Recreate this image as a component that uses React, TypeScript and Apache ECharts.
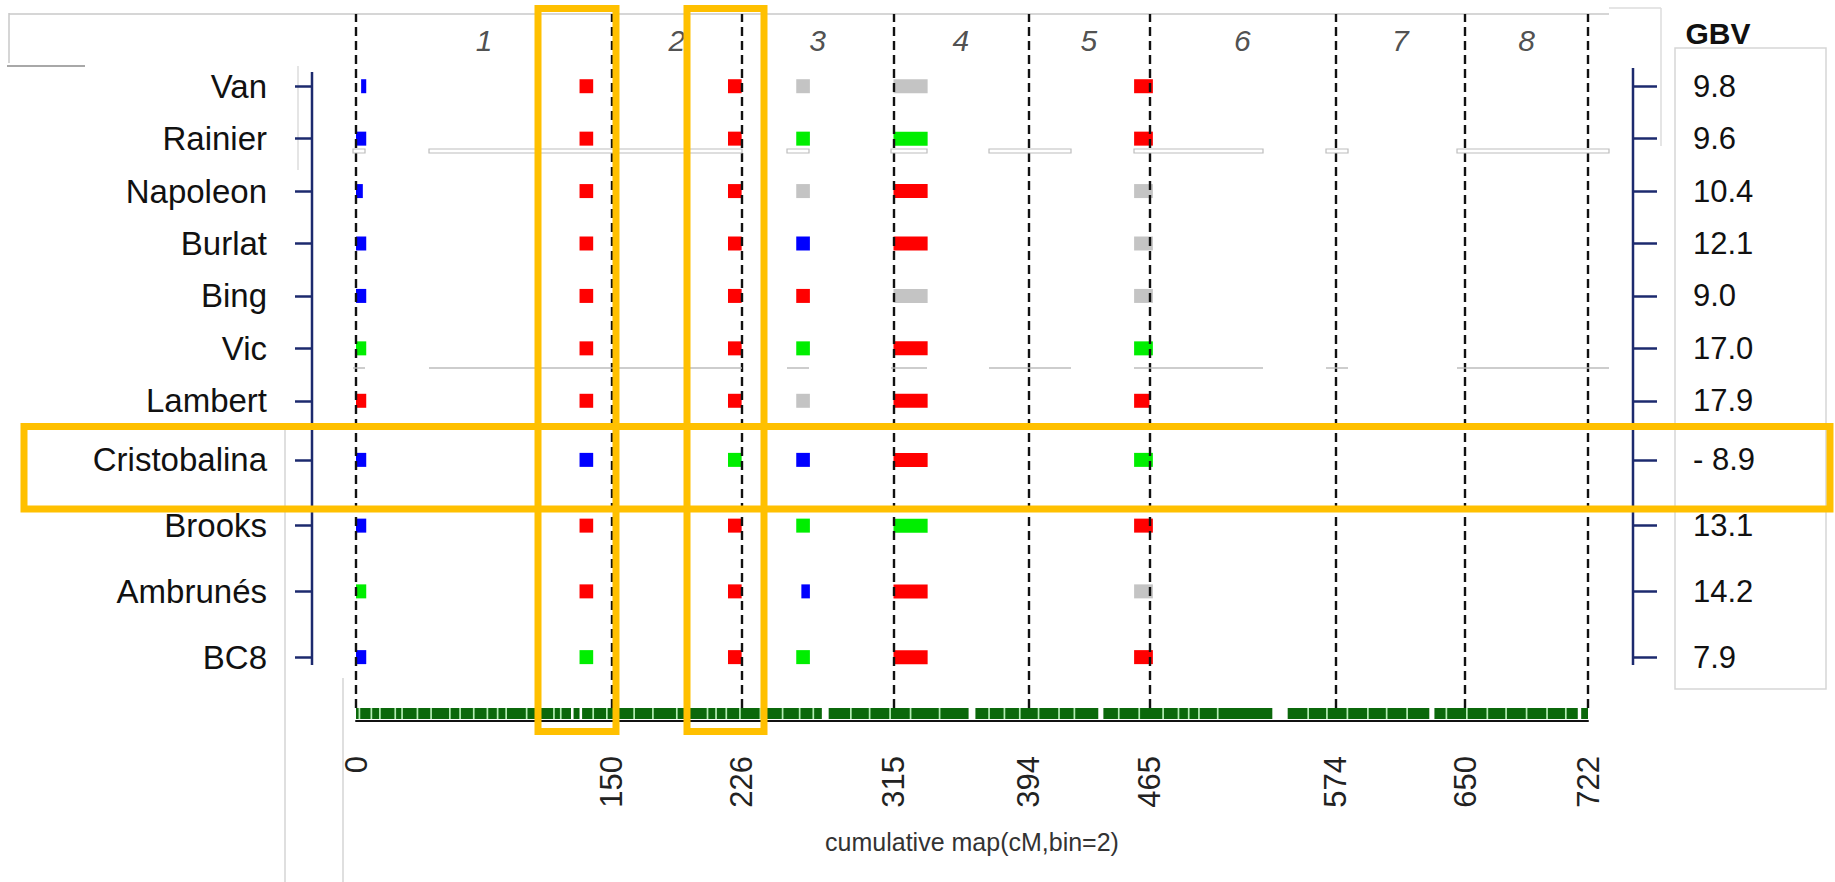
import React, { useEffect, useRef } from 'react';
import * as echarts from 'echarts';

const FONT = '"Liberation Sans", Arial, Helvetica, sans-serif';

// ---- data ----
const genotypes = ['Van', 'Rainier', 'Napoleon', 'Burlat', 'Bing', 'Vic', 'Lambert', 'Cristobalina', 'Brooks', 'Ambrunés', 'BC8'];
const gbvValues = ['9.8', '9.6', '10.4', '12.1', '9.0', '17.0', '17.9', '- 8.9', '13.1', '14.2', '7.9'];
const upperRowCount = 7;

const chromBoundaries = [0, 150, 226, 315, 394, 465, 574, 650, 722];
const chromNames = ['1', '2', '3', '4', '5', '6', '7', '8'];

// marker bins (cM start, cM end)
const markerBins = [[0, 6], [131, 139], [218, 226], [258, 266], [315, 335], [456, 467]];
// haplotype code per genotype per bin: R red, B blue, G green, N grey
const haplotypeCodes = [
  ['B', 'R', 'R', 'N', 'N', 'R'], // Van
  ['B', 'R', 'R', 'G', 'G', 'R'], // Rainier
  ['B', 'R', 'R', 'N', 'R', 'N'], // Napoleon
  ['B', 'R', 'R', 'B', 'R', 'N'], // Burlat
  ['B', 'R', 'R', 'R', 'N', 'N'], // Bing
  ['G', 'R', 'R', 'G', 'R', 'G'], // Vic
  ['R', 'R', 'R', 'N', 'R', 'R'], // Lambert
  ['B', 'B', 'G', 'B', 'R', 'G'], // Cristobalina
  ['B', 'R', 'R', 'G', 'G', 'R'], // Brooks
  ['G', 'R', 'R', 'B', 'R', 'N'], // Ambrunés
  ['B', 'G', 'R', 'G', 'R', 'R'], // BC8
];
const spanOverrides = [
  { row: 0, bin: 0, span: [3, 6] },
  { row: 2, bin: 0, span: [0, 4] },
  { row: 9, bin: 3, span: [261, 266] },
  { row: 6, bin: 5, span: [456, 465] },
];
const codeColors: Record<string, string> = { R: '#ff0000', B: '#0000ff', G: '#00ee00', N: '#c4c4c4' };

// marker rug (cumulative map)
const rugExtent = [0, 722];
const rugGaps = [[126, 127.5], [131, 132.5], [273, 277], [359, 363], [435, 438], [537, 546], [629, 632], [716, 718]];
const rugSlits = [2, 9, 14, 23, 27, 36, 44, 55, 61, 69, 77, 83, 88, 100, 116, 120, 139, 147, 163, 174, 188, 206, 211, 217, 225, 237, 250, 260, 268, 290, 301, 313, 325, 342, 371, 380, 389, 400, 412, 421, 447, 459, 473, 482, 488, 494, 505, 558, 569, 581, 593, 604, 616, 639, 651, 663, 674, 686, 698, 709];

const NAVY = '#1c2a6e';
const ORANGE = '#FFC000';
const GREY = '#c8c8c8';

function buildMarkers(rowStart: number, rowEnd: number) {
  const out: any[] = [];
  for (let r = rowStart; r < rowEnd; r++) {
    haplotypeCodes[r].forEach((code, b) => {
      const ov = spanOverrides.find((o) => o.row === r && o.bin === b);
      const span = ov ? ov.span : markerBins[b];
      out.push({ value: [span[0], span[1], r - rowStart], itemStyle: { color: codeColors[code] } });
    });
  }
  return out;
}

const markerRender = (params: any, api: any) => {
  const row = api.value(2);
  const p0 = api.coord([api.value(0), row]);
  const p1 = api.coord([api.value(1), row]);
  const h = 14;
  return {
    type: 'rect',
    shape: { x: p0[0], y: p0[1] - h / 2, width: Math.max(p1[0] - p0[0], 2), height: h },
    style: { fill: api.visual('color') },
  };
};

const rugRender = (params: any, api: any) => {
  const a = api.coord([api.value(0), 1]);
  const b = api.coord([api.value(1), 0]);
  return {
    type: 'rect',
    shape: { x: a[0], y: a[1], width: Math.max(b[0] - a[0], 1.6), height: b[1] - a[1] - 2 },
    style: { fill: api.visual('color') },
  };
};

function catAxis(gridIndex: number, side: 'left' | 'right', data: string[]) {
  const left = side === 'left';
  return {
    gridIndex,
    type: 'category',
    position: side,
    inverse: true,
    data,
    offset: left ? 44 : 45,
    boundaryGap: true,
    axisLine: { show: false, onZero: false },
    axisTick: { show: true, alignWithLabel: true, length: left ? 17 : 24, lineStyle: { color: NAVY, width: 2.5 } },
    axisLabel: {
      margin: left ? 45 : 60,
      fontSize: left ? 33 : 31,
      color: '#111',
      fontFamily: FONT,
    },
    splitLine: { show: false },
  };
}

function hLine(x1: number, x2: number, y: number, color = GREY, w = 1.5) {
  return { type: 'line', silent: true, shape: { x1, y1: y, x2, y2: y }, style: { stroke: color, lineWidth: w } };
}
function vLine(x: number, y1: number, y2: number, color = GREY, w = 1.5) {
  return { type: 'line', silent: true, shape: { x1: x, y1, x2: x, y2 }, style: { stroke: color, lineWidth: w } };
}
function box(x: number, y: number, w: number, h: number, stroke: string, lw: number, z = 100) {
  return { type: 'rect', silent: true, z, shape: { x, y, width: w, height: h }, style: { fill: 'none', stroke, lineWidth: lw } };
}

const stripSegments = [[353, 365], [429, 742], [787, 809], [891, 927], [989, 1071], [1134, 1263], [1326, 1348], [1457, 1609]];

export default function App() {
  const ref = useRef<HTMLDivElement>(null);
  useEffect(() => {
    if (!ref.current) return;
    const chart = echarts.init(ref.current, undefined, { renderer: 'svg' });

    const chromLabelData = chromNames.map((n, i) => ({
      name: n,
      value: [(chromBoundaries[i] + chromBoundaries[i + 1]) / 2, 0.9625],
    }));

    const rugData: any[] = [];
    rugData.push({ value: [rugExtent[0], rugExtent[1]], itemStyle: { color: '#0b680b' } });
    rugGaps.forEach((g) => rugData.push({ value: [g[0], g[1]], itemStyle: { color: '#ffffff' } }));
    rugSlits.forEach((s) => rugData.push({ value: [s - 0.5, s + 0.5], itemStyle: { color: '#b4ecb4' } }));

    const graphics: any[] = [];
    // faint panel borders from the composite figure
    graphics.push(hLine(9, 1609, 14));
    graphics.push(vLine(9, 13, 63));
    graphics.push(hLine(7, 85, 66, '#a8a8a8', 2));
    graphics.push(vLine(298, 66, 170, '#dddddd'));
    graphics.push(vLine(285, 430, 882, '#d4d4d4'));
    graphics.push(vLine(343, 678, 882, '#d4d4d4'));
    graphics.push(hLine(1609, 1661, 8, '#dddddd'));
    graphics.push(vLine(1661, 8, 146, '#dddddd'));
    graphics.push({ type: 'rect', silent: true, shape: { x: 1675, y: 48, width: 151, height: 641 }, style: { fill: 'none', stroke: '#d6d6d6', lineWidth: 1.5 } });
    stripSegments.forEach((s) => {
      graphics.push({ type: 'rect', silent: true, z: 50, shape: { x: s[0], y: 149, width: s[1] - s[0], height: 4 }, style: { fill: '#ffffff', stroke: '#bdbdbd', lineWidth: 1.2 } });
      graphics.push({ ...hLine(s[0], s[1], 368, '#bdbdbd', 1.5), z: 50 });
    });
    // bracket spines of the genotype / GBV axes
    graphics.push(vLine(312, 72, 665, NAVY, 2.5));
    graphics.push(vLine(1633, 68, 665, NAVY, 2.5));
    // GBV header
    graphics.push({
      type: 'text',
      silent: true,
      style: { text: 'GBV', x: 1718, y: 33, align: 'center', verticalAlign: 'middle', fontSize: 30, fontWeight: 'bold', fontFamily: FONT, fill: '#111' },
    });
    // orange highlight boxes
    graphics.push(box(538, 8.5, 78, 723, ORANGE, 7));
    graphics.push(box(687, 8.5, 77, 723, ORANGE, 7));
    graphics.push(box(24, 426.5, 1806, 82.5, ORANGE, 7));

    const option: any = {
      animation: false,
      backgroundColor: '#ffffff',
      textStyle: { fontFamily: FONT },
      grid: [
        { left: 356, top: 14, width: 1232, height: 694 },
        { left: 356, top: 60, width: 1232, height: 367 },
        { left: 356, top: 427, width: 1232, height: 263 },
        { left: 356, top: 708, width: 1232, height: 13 },
      ],
      xAxis: [
        { gridIndex: 0, type: 'value', min: 0, max: 722, show: false },
        { gridIndex: 1, type: 'value', min: 0, max: 722, show: false },
        { gridIndex: 2, type: 'value', min: 0, max: 722, show: false },
        {
          gridIndex: 3,
          type: 'value',
          min: 0,
          max: 722,
          axisLine: { show: true, onZero: false, lineStyle: { color: '#111', width: 2 } },
          axisTick: { show: false },
          splitLine: { show: false },
          axisLabel: { customValues: chromBoundaries, rotate: 90, fontSize: 31, margin: 35, color: '#222', fontFamily: FONT },
          name: 'cumulative map(cM,bin=2)',
          nameLocation: 'middle',
          nameGap: 108,
          nameTextStyle: { fontSize: 25, color: '#333', fontFamily: FONT },
        },
      ],
      yAxis: [
        { gridIndex: 0, type: 'value', min: 0, max: 1, show: false },
        catAxis(1, 'left', genotypes.slice(0, upperRowCount)),
        catAxis(1, 'right', gbvValues.slice(0, upperRowCount)),
        catAxis(2, 'left', genotypes.slice(upperRowCount)),
        catAxis(2, 'right', gbvValues.slice(upperRowCount)),
        { gridIndex: 3, type: 'value', min: 0, max: 1, show: false },
      ],
      series: [
        {
          type: 'custom',
          name: 'markers-upper',
          xAxisIndex: 1,
          yAxisIndex: 1,
          encode: { x: [0, 1], y: 2 },
          renderItem: markerRender,
          data: buildMarkers(0, upperRowCount),
          z: 3,
        },
        {
          type: 'custom',
          name: 'markers-lower',
          xAxisIndex: 2,
          yAxisIndex: 3,
          encode: { x: [0, 1], y: 2 },
          renderItem: markerRender,
          data: buildMarkers(upperRowCount, genotypes.length),
          z: 3,
        },
        {
          type: 'custom',
          name: 'rug',
          xAxisIndex: 3,
          yAxisIndex: 5,
          encode: { x: [0, 1] },
          renderItem: rugRender,
          data: rugData,
          z: 3,
        },
        {
          type: 'scatter',
          name: 'chromosomes',
          xAxisIndex: 0,
          yAxisIndex: 0,
          symbolSize: 1,
          itemStyle: { color: 'rgba(0,0,0,0)' },
          silent: true,
          z: 10,
          label: {
            show: true,
            position: 'inside',
            formatter: '{b}',
            fontSize: 30,
            fontStyle: 'italic',
            color: '#222',
            fontFamily: FONT,
          },
          data: chromLabelData,
          markLine: {
            silent: true,
            symbol: ['none', 'none'],
            label: { show: false },
            lineStyle: { color: '#111', type: [9, 5], width: 2.4 },
            data: chromBoundaries.map((v) => ({ xAxis: v })),
            z: 10,
          },
        },
      ],
      graphic: graphics,
    };

    chart.setOption(option);
    return () => chart.dispose();
  }, []);

  return <div ref={ref} style={{ position: 'fixed', left: 0, top: 0, width: 1835, height: 882, background: '#fff' }} />;
}
